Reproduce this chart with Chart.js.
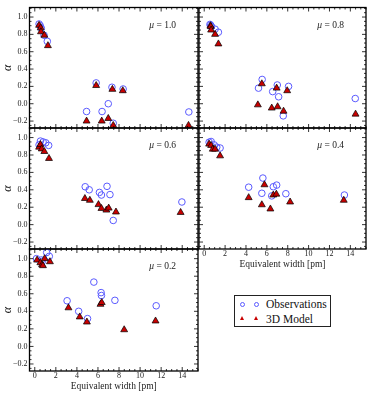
<!DOCTYPE html>
<html>
<head>
<meta charset="utf-8">
<script src="https://cdn.jsdelivr.net/npm/chart.js@4.4.1/dist/chart.umd.min.js"></script>
<style>
  body { margin: 0; background: #fff; }
  #wrap { position: relative; width: 374px; height: 399px; overflow: hidden; }
  #wrap canvas { position: absolute; }
  #legend { position: absolute; left: 234px; top: 295px; width: 95px; height: 30px;
    border: 1px solid #222; font-family: "Liberation Serif", serif; font-size: 11.5px; color: #111; }
  #legend .txt { position: absolute; left: 31px; line-height: 12px; }
  #legend .c { position: absolute; width: 3px; height: 3px; border: 1px solid #5a5aff; border-radius: 50%; }
  #legend .t { position: absolute; width: 0; height: 0; border-left: 2.5px solid transparent;
    border-right: 2.5px solid transparent; border-bottom: 4.5px solid #c80000; }
</style>
</head>
<body>
<div id="wrap">
  <div id="legend">
    <span class="c" style="left:5px;top:5.5px"></span>
    <span class="c" style="left:18.5px;top:5.5px"></span>
    <span class="txt" style="top:2px">Observations</span>
    <span class="t" style="left:5px;top:19.5px"></span>
    <span class="t" style="left:18.5px;top:19.5px"></span>
    <span class="txt" style="top:16.5px">3D Model</span>
  </div>
</div>
<script>
// tick labels
const xTicks = [0, 2, 4, 6, 8, 10, 12, 14];
const yTicks = [-0.2, 0.0, 0.2, 0.4, 0.6, 0.8, 1.0];
const muLabels = ['1.0', '0.8', '0.6', '0.4', '0.2'];

// mu = 1.0
const obsEW1 = [0.41, 0.52, 0.62, 0.88, 1.19, 4.92, 5.83, 6.39, 6.98, 7.33, 7.45, 8.39, 14.63];
const obsA1  = [0.92, 0.90, 0.87, 0.79, 0.72, -0.09, 0.24, -0.09, 0.0, 0.19, -0.225, 0.17, -0.095];
const modEW1 = [0.41, 0.56, 0.59, 0.91, 1.25, 4.92, 5.83, 6.36, 6.98, 7.37, 7.45, 8.36, 14.6];
const modA1  = [0.905, 0.875, 0.83, 0.79, 0.67, -0.2, 0.21, -0.2, -0.17, 0.166, -0.25, 0.15, -0.25];

// mu = 0.8
const obsEW2 = [0.55, 0.62, 0.7, 1.04, 1.36, 5.2, 5.55, 6.56, 7.0, 7.13, 7.57, 8.08, 14.47];
const obsA2  = [0.915, 0.905, 0.89, 0.86, 0.825, 0.18, 0.28, 0.14, 0.216, 0.08, -0.14, 0.2, 0.06];
const modEW2 = [0.6, 0.62, 0.66, 1.04, 1.36, 5.14, 5.52, 6.47, 6.94, 7.03, 7.6, 7.95, 14.5];
const modA2  = [0.9, 0.89, 0.85, 0.8, 0.69, -0.013, 0.23, -0.05, 0.18, -0.035, -0.086, 0.15, -0.12];

// mu = 0.6
const obsEW3 = [0.41, 0.54, 0.79, 1.04, 1.32, 4.79, 5.17, 6.14, 6.33, 6.86, 7.14, 7.45, 13.97];
const obsA3  = [0.916, 0.96, 0.95, 0.94, 0.91, 0.435, 0.40, 0.37, 0.34, 0.44, 0.345, 0.048, 0.26];
const modEW3 = [0.41, 0.54, 0.66, 0.91, 1.35, 4.76, 5.23, 6.05, 6.33, 6.8, 7.02, 7.71, 13.85];
const modA3  = [0.89, 0.92, 0.87, 0.84, 0.76, 0.30, 0.28, 0.23, 0.186, 0.167, 0.19, 0.145, 0.14];

// mu = 0.4
const obsEW4 = [0.47, 0.66, 0.95, 1.2, 1.52, 4.26, 5.52, 5.62, 6.47, 6.62, 6.94, 7.82, 13.43];
const obsA4  = [0.947, 0.955, 0.916, 0.89, 0.88, 0.43, 0.36, 0.535, 0.33, 0.435, 0.454, 0.355, 0.34];
const modEW4 = [0.47, 0.66, 0.82, 1.04, 1.52, 4.26, 5.52, 5.77, 6.34, 6.62, 6.91, 8.23, 13.37];
const modA4  = [0.925, 0.91, 0.867, 0.867, 0.79, 0.31, 0.228, 0.458, 0.18, 0.34, 0.35, 0.26, 0.28];

// mu = 0.2
const obsEW5 = [0.16, 0.63, 0.72, 1.13, 1.38, 3.07, 4.17, 5.01, 5.61, 6.3, 6.33, 7.61, 11.53];
const obsA5  = [1.0, 0.985, 0.97, 1.07, 1.027, 0.52, 0.40, 0.317, 0.733, 0.613, 0.58, 0.525, 0.463];
const modEW5 = [0.22, 0.53, 0.69, 0.78, 0.94, 1.44, 3.2, 4.27, 4.95, 6.24, 6.36, 8.49, 11.47];
const modA5  = [0.984, 0.954, 0.93, 0.92, 1.0, 0.965, 0.44, 0.336, 0.278, 0.48, 0.50, 0.19, 0.29];

const SERIF = '"Liberation Serif", "DejaVu Serif", serif';
const pts = (xs, ys) => xs.map((x, i) => ({ x: x, y: ys[i] }));

// frame, inward ticks on all four sides, and the mu label
const framePlugin = {
  id: 'frame',
  afterDraw(chart) {
    const { ctx, chartArea: a } = chart;
    const xs = chart.scales.x, ys = chart.scales.y;
    ctx.save();
    ctx.strokeStyle = '#000';
    ctx.lineWidth = 0.8;
    ctx.beginPath();
    for (let v = 0; v <= 15.5; v += 0.5) {
      const px = xs.getPixelForValue(v);
      const len = (v % 2 === 0) ? 4 : 2;
      ctx.moveTo(px, a.bottom); ctx.lineTo(px, a.bottom - len);
      ctx.moveTo(px, a.top); ctx.lineTo(px, a.top + len);
    }
    for (let k = -5; k <= 22; k++) {
      const v = k * 0.05;
      const py = ys.getPixelForValue(v);
      const len = (k % 4 === 0) ? 4 : 2;
      ctx.moveTo(a.left, py); ctx.lineTo(a.left + len, py);
      ctx.moveTo(a.right, py); ctx.lineTo(a.right - len, py);
    }
    ctx.stroke();
    ctx.lineWidth = 1.3;
    ctx.strokeRect(a.left, a.top, a.right - a.left, a.bottom - a.top);

    const mu = chart.options.plugins.frame.mu;
    ctx.fillStyle = '#222';
    ctx.textBaseline = 'alphabetic';
    ctx.textAlign = 'left';
    ctx.font = '9.5px ' + SERIF;
    const rest = ' = ' + mu;
    const wRest = ctx.measureText(rest).width;
    ctx.font = 'italic 9.5px ' + SERIF;
    const wMu = ctx.measureText('μ').width;
    const x0 = a.right - 22 - wRest - wMu;
    const y0 = a.top + 20;
    ctx.fillText('μ', x0, y0);
    ctx.font = '9.5px ' + SERIF;
    ctx.fillText(rest, x0 + wMu, y0);
    ctx.restore();
  }
};

function makePanel(p) {
  const canvas = document.createElement('canvas');
  canvas.width = p.w; canvas.height = p.h;
  canvas.style.left = p.left + 'px'; canvas.style.top = p.top + 'px';
  canvas.style.width = p.w + 'px'; canvas.style.height = p.h + 'px';
  document.getElementById('wrap').appendChild(canvas);

  const zeroPad = (s) => { s.paddingLeft = 0; s.paddingRight = 0; s.paddingTop = 0; s.paddingBottom = 0; };

  new Chart(canvas, {
    type: 'scatter',
    data: {
      datasets: [
        {
          label: '3D Model',
          data: pts(p.modEW, p.modA),
          pointStyle: 'triangle',
          pointRadius: 4,
          backgroundColor: '#c80000',
          borderColor: '#000',
          borderWidth: 0.7,
          order: 0
        },
        {
          label: 'Observations',
          data: pts(p.obsEW, p.obsA),
          pointStyle: 'circle',
          pointRadius: 3.3,
          backgroundColor: 'rgba(0,0,0,0)',
          borderColor: '#5a5aff',
          borderWidth: 1,
          order: 1
        }
      ]
    },
    options: {
      responsive: false,
      animation: false,
      devicePixelRatio: 1,
      layout: { padding: { top: p.padT, right: p.padR, left: 0, bottom: 0 } },
      plugins: {
        legend: { display: false },
        tooltip: { enabled: false },
        frame: { mu: p.mu }
      },
      scales: {
        x: {
          type: 'linear',
          min: -0.5,
          max: 15.5,
          grid: { display: false, drawTicks: false },
          border: { display: false },
          afterBuildTicks: (s) => { s.ticks = xTicks.map(v => ({ value: v })); },
          afterFit: (s) => { s.height = p.padB; zeroPad(s); },
          ticks: {
            display: p.xLabels,
            padding: 0.5,
            maxRotation: 0,
            autoSkip: false,
            color: '#222',
            font: { family: SERIF, size: 8 },
            callback: (v) => String(v)
          },
          title: {
            display: p.xLabels,
            text: 'Equivalent width [pm]',
            color: '#222',
            padding: { top: 0, bottom: 3.5 },
            font: { family: SERIF, size: 9.5 }
          }
        },
        y: {
          type: 'linear',
          min: -0.28,
          max: 1.11,
          grid: { display: false, drawTicks: false },
          border: { display: false },
          afterBuildTicks: (s) => { s.ticks = yTicks.map(v => ({ value: v })); },
          afterFit: (s) => { s.width = p.padL; zeroPad(s); },
          ticks: {
            display: p.yLabels,
            padding: 2,
            color: '#222',
            font: { family: SERIF, size: 8 },
            callback: (v) => v.toFixed(1).replace('-', '\u2212')
          },
          title: {
            display: p.yLabels,
            text: 'α',
            color: '#222',
            padding: { top: 1, bottom: 0 },
            font: { family: SERIF, size: 12, style: 'italic' }
          }
        }
      }
    },
    plugins: [framePlugin]
  });
}

makePanel({ mu: muLabels[0], obsEW: obsEW1, obsA: obsA1, modEW: modEW1, modA: modA1,
  left: 0, top: 0, w: 203, h: 133, padL: 29.5, padR: 4.5, padT: 7.5, padB: 5, xLabels: false, yLabels: true });
makePanel({ mu: muLabels[1], obsEW: obsEW2, obsA: obsA2, modEW: modEW2, modA: modA2,
  left: 194, top: 0, w: 177, h: 133, padL: 4.5, padR: 4, padT: 7.5, padB: 5, xLabels: false, yLabels: false });
makePanel({ mu: muLabels[2], obsEW: obsEW3, obsA: obsA3, modEW: modEW3, modA: modA3,
  left: 0, top: 120, w: 203, h: 134, padL: 29.5, padR: 4.5, padT: 8, padB: 5, xLabels: false, yLabels: true });
makePanel({ mu: muLabels[3], obsEW: obsEW4, obsA: obsA4, modEW: modEW4, modA: modA4,
  left: 194, top: 120, w: 177, h: 154, padL: 4.5, padR: 4, padT: 8, padB: 25, xLabels: true, yLabels: false });
makePanel({ mu: muLabels[4], obsEW: obsEW5, obsA: obsA5, modEW: modEW5, modA: modA5,
  left: 0, top: 240, w: 203, h: 156, padL: 29.5, padR: 4.5, padT: 9, padB: 25, xLabels: true, yLabels: true });
</script>
</body>
</html>
